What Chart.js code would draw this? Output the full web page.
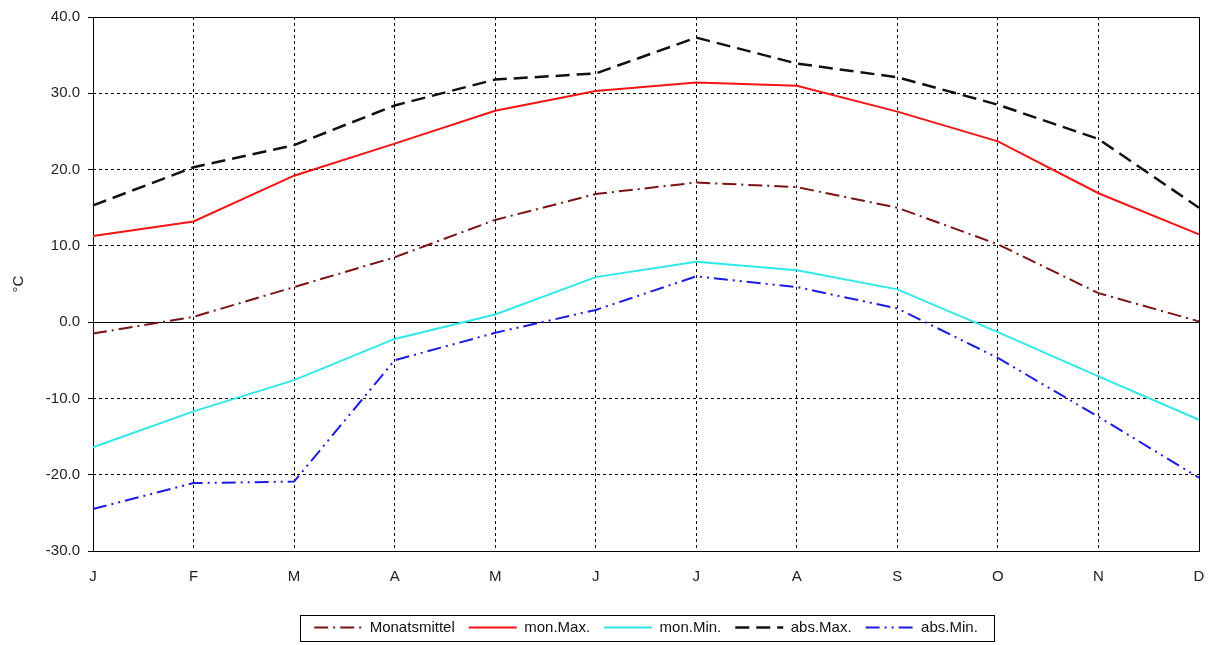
<!DOCTYPE html>
<html>
<head>
<meta charset="utf-8">
<script src="https://cdn.jsdelivr.net/npm/chart.js@4/dist/chart.umd.min.js"></script>
<style>
  html, body { margin: 0; padding: 0; background: #fff; }
  #wrap { width: 1212px; height: 645px; }
</style>
</head>
<body>
<div id="wrap"><canvas id="chart" width="1212" height="645"></canvas></div>
<script>
const months = ["J", "F", "M", "A", "M", "J", "J", "A", "S", "O", "N", "D"];

const monatsmittel = [-1.5, 0.7, 4.6, 8.5, 13.4, 16.8, 18.3, 17.7, 15.0, 10.2, 3.8, 0.1];
const monMax = [11.3, 13.2, 19.2, 23.4, 27.7, 30.3, 31.4, 31.0, 27.6, 23.7, 16.9, 11.5];
const monMin = [-16.4, -11.7, -7.6, -2.2, 1.0, 5.9, 7.9, 6.8, 4.3, -1.3, -7.1, -12.8];
const absMax = [15.3, 20.3, 23.2, 28.4, 31.8, 32.6, 37.3, 33.9, 32.1, 28.5, 24.0, 15.0];
const absMin = [-24.5, -21.1, -20.9, -5.0, -1.4, 1.6, 6.0, 4.6, 1.8, -4.7, -12.4, -20.4];

const yMin = -30;
const yMax = 40;
const yStep = 10;

const fontFamily = "'Liberation Sans', Arial, sans-serif";

// solid frame round the plot, solid zero line, and a box round the legend
const framePlugin = {
  id: "frame",
  beforeDatasetsDraw(chart) {
    const { ctx, chartArea: a, scales } = chart;
    ctx.save();
    ctx.strokeStyle = "#000";
    ctx.lineWidth = 1;
    ctx.setLineDash([]);
    ctx.strokeRect(a.left + 0.5, a.top + 0.5, a.right - a.left, a.bottom - a.top);
    const y0 = Math.round(scales.y.getPixelForValue(0)) + 0.5;
    ctx.beginPath();
    ctx.moveTo(a.left, y0);
    ctx.lineTo(a.right, y0);
    ctx.stroke();
    ctx.restore();
  },
  afterDraw(chart) {
    const lg = chart.legend;
    if (!lg || !lg.legendHitBoxes || !lg.legendHitBoxes.length) return;
    const boxes = lg.legendHitBoxes;
    const left = Math.min(...boxes.map(b => b.left)) - 14;
    const right = Math.max(...boxes.map(b => b.left + b.width)) + 16;
    const mid = boxes[0].top + boxes[0].height / 2;
    const ctx = chart.ctx;
    ctx.save();
    ctx.strokeStyle = "#000";
    ctx.lineWidth = 1;
    ctx.setLineDash([]);
    ctx.strokeRect(Math.round(left) + 0.5, Math.round(mid - 13) + 0.5, Math.round(right - left), 26);
    ctx.restore();
  }
};

function line(label, data, color, dash, width) {
  return {
    label,
    data,
    borderColor: color,
    backgroundColor: color,
    borderWidth: width,
    borderDash: dash,
    borderCapStyle: "butt",
    pointRadius: 0,
    pointHoverRadius: 0,
    tension: 0,
    fill: false
  };
}

new Chart(document.getElementById("chart"), {
  type: "line",
  data: {
    labels: months,
    datasets: [
      line("Monatsmittel", monatsmittel, "#7a1414", [14, 5, 2, 5], 2),
      line("mon.Max.", monMax, "#f41414", [], 2),
      line("mon.Min.", monMin, "#30e8e8", [], 2),
      line("abs.Max.", absMax, "#101010", [14, 7], 2.5),
      line("abs.Min.", absMin, "#1c1ce0", [14, 5, 2, 5, 2, 5], 2)
    ]
  },
  options: {
    responsive: false,
    animation: false,
    layout: { padding: { left: 0, right: 13, top: 16, bottom: 0 } },
    plugins: {
      tooltip: { enabled: false },
      legend: {
        position: "bottom",
        fullSize: false,
        labels: {
          usePointStyle: true,
          pointStyle: "line",
          pointStyleWidth: 48,
          boxHeight: 14,
          padding: 14,
          color: "#111",
          font: { family: fontFamily, size: 15 },
          // legend samples keep each line's dash pattern and width
          generateLabels(chart) {
            const items = Chart.defaults.plugins.legend.labels.generateLabels(chart);
            return items.map(item => {
              const ds = chart.data.datasets[item.datasetIndex];
              item.lineDash = ds.borderDash;
              item.lineWidth = ds.borderWidth;
              item.strokeStyle = ds.borderColor;
              item.lineCap = "butt";
              return item;
            });
          }
        }
      }
    },
    scales: {
      x: {
        type: "category",
        offset: false,
        grid: { color: "#000", lineWidth: 1, tickLength: 17, tickColor: "rgba(0,0,0,0)" },
        border: { display: false, dash: [3, 3] },
        ticks: {
          color: "#222",
          padding: 0,
          maxRotation: 0,
          autoSkip: false,
          font: { family: fontFamily, size: 15 }
        },
        afterFit(scale) { scale.height = 55; }
      },
      y: {
        min: yMin,
        max: yMax,
        grid: { color: "#000", lineWidth: 1, tickLength: 5 },
        border: { display: false, dash: [3, 3] },
        ticks: {
          stepSize: yStep,
          color: "#222",
          padding: 8,
          font: { family: fontFamily, size: 15 },
          callback: v => Number(v).toFixed(1)
        },
        title: {
          display: true,
          text: "°C",
          color: "#222",
          padding: { top: 10, bottom: 0 },
          font: { family: fontFamily, size: 15 }
        },
        afterFit(scale) { scale.width = 93; }
      }
    }
  },
  plugins: [framePlugin]
});
</script>
</body>
</html>
